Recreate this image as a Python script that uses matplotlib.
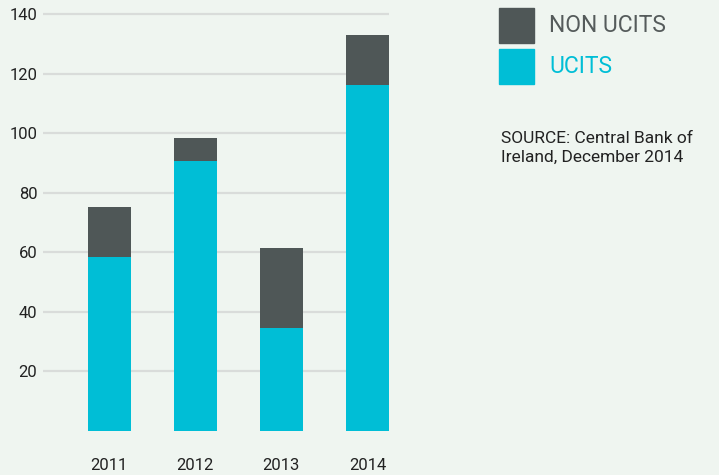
"""
Irish fund assets by type, stacked bars
"""

import matplotlib.pyplot as plt
import matplotlib
from matplotlib.patches import Rectangle

matplotlib.rcParams['font.family'] = ['Roboto', 'DejaVu Sans']

years = ['2011', '2012', '2013', '2014']
ucits = [58.5, 90.7, 34.5, 116.3]
non_ucits = [16.8, 7.8, 26.9, 16.9]
yticks = [20, 40, 60, 80, 100, 120, 140]

BG = '#eff5f0'
CYAN = '#00bed6'
DARK = '#4f5757'
TEXT = '#222222'

fig = plt.figure(figsize=(7.19, 4.75), dpi=100, facecolor=BG)
ax = fig.add_axes([43 / 719, (475 - 430.5) / 475, 346 / 719, 419 / 475])
ax.set_facecolor(BG)

x = list(range(len(years)))
ax.bar(x, ucits, width=0.5, color=CYAN, zorder=3)
ax.bar(x, non_ucits, width=0.5, bottom=ucits, color=DARK, zorder=3)

ax.set_xlim(-0.77, 3.25)
ax.set_ylim(0, 141)
ax.set_yticks(yticks)
ax.set_yticklabels([str(t) for t in yticks], fontsize=12, color=TEXT)
ax.set_xticks(x)
ax.set_xticklabels(years, fontsize=12, color=TEXT)
ax.tick_params(axis='y', length=0, pad=4)
ax.tick_params(axis='x', length=0, pad=20)
ax.grid(axis='y', color='#d9dcda', linewidth=1.6, zorder=1)
for s in ax.spines.values():
    s.set_visible(False)

# legend drawn by hand, top right
legend_labels = ['NON UCITS', 'UCITS']
legend_colors = [DARK, CYAN]
legend_text_colors = ['#555b5b', CYAN]
for i, (lab, c, tc) in enumerate(zip(legend_labels, legend_colors, legend_text_colors)):
    top = 8 + i * 41
    fig.patches.append(Rectangle((499 / 719, 1 - (top + 35) / 475), 35 / 719, 35 / 475,
                                 transform=fig.transFigure, color=c))
    fig.text(549 / 719, 1 - (top + 17.5) / 475, lab, fontsize=16.5, color=tc,
             va='center', ha='left')

fig.text(501 / 719, 1 - 148 / 475, 'SOURCE: Central Bank of\nIreland, December 2014',
         fontsize=12.5, color=TEXT, va='center', ha='left', linespacing=1.3)

plt.savefig('out.png', dpi=100, facecolor=BG)
